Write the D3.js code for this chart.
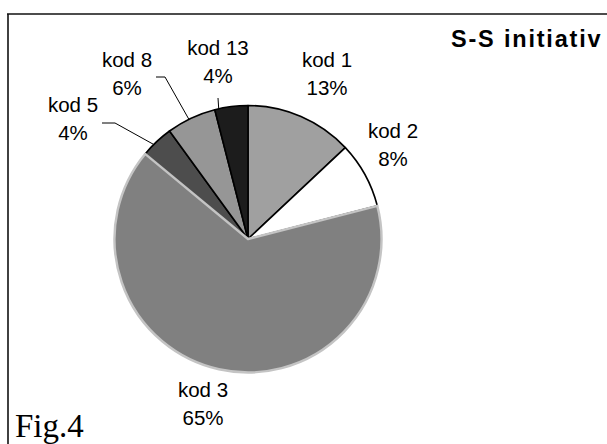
<!DOCTYPE html>
<html>
<head>
<meta charset="utf-8">
<script src="https://cdn.jsdelivr.net/npm/d3@7"></script>
<style>
  html, body { margin: 0; padding: 0; background: #fff; }
  svg { display: block; }
</style>
</head>
<body>
<svg id="chart" width="607" height="444"></svg>
<script>
// ---- data ----
const categories = ["kod 1", "kod 2", "kod 3", "kod 5", "kod 8", "kod 13"];
const values = [13, 8, 65, 4, 6, 4];
const percentLabels = ["13%", "8%", "65%", "4%", "6%", "4%"];
const title = "S-S initiativ";
const figLabel = "Fig.4";

// ---- layout / style (kept separate from data) ----
const fills = ["#a0a0a0", "#ffffff", "#808080", "#4d4d4d", "#969696", "#1c1c1c"];
const cx = 248, cy = 239, radius = 133.5;
// label anchor (center x, first baseline) relative to pie centre
const labelOffsets = [[79, -172], [145, -101], [-45, 158], [-175, -127], [-121, -172], [-30, -184]];
// leader lines: fraction within slice for edge point, plus fixed elbow points (relative)
const leaders = [
  null, null, null,
  { frac: 0.38, pts: [[-146, -116], [-133, -116]] },
  { frac: 0.45, pts: [[-92, -162], [-83, -162]] },
  { frac: 0.12, pts: [[-30, -141]] }
];

const svg = d3.select("#chart");

// frame
svg.append("line").attr("x1", 7).attr("y1", 14).attr("x2", 607).attr("y2", 14)
  .attr("stroke", "#111").attr("stroke-width", 1.6);
svg.append("line").attr("x1", 8).attr("y1", 14).attr("x2", 8).attr("y2", 444)
  .attr("stroke", "#111").attr("stroke-width", 1.6);

const pie = d3.pie().sort(null).value(d => d)(values);
const arc = d3.arc().innerRadius(0).outerRadius(radius);

const g = svg.append("g").attr("transform", `translate(${cx},${cy})`);

// draw all slices except kod 3 with black outline, then kod 3 on top with light outline
const order = pie.map((d, i) => i).filter(i => i !== 2).concat([2]);
order.forEach(i => {
  const d = pie[i];
  g.append("path")
    .attr("d", arc(d))
    .attr("fill", fills[i])
    .attr("stroke", i === 2 ? "#c4c4c4" : "#000")
    .attr("stroke-width", i === 2 ? 2.4 : 1.6)
    .attr("stroke-linejoin", "round");
});

// leader lines
pie.forEach((d, i) => {
  const L = leaders[i];
  if (!L) return;
  const a = d.startAngle + L.frac * (d.endAngle - d.startAngle);
  const edge = [Math.sin(a) * radius, -Math.cos(a) * radius];
  const pts = L.pts.concat([edge]);
  g.append("path")
    .attr("d", d3.line()(pts))
    .attr("fill", "none")
    .attr("stroke", "#000")
    .attr("stroke-width", 1);
});

// labels
pie.forEach((d, i) => {
  const [ox, oy] = labelOffsets[i];
  const t = g.append("text")
    .attr("text-anchor", "middle")
    .attr("font-family", "'Liberation Sans', Arial, sans-serif")
    .attr("font-size", 20.5)
    .attr("fill", "#000");
  t.append("tspan").attr("x", ox).attr("y", oy).text(categories[i]);
  t.append("tspan").attr("x", ox).attr("y", oy + 28).text(percentLabels[i]);
});

// title
svg.append("text")
  .attr("x", 451).attr("y", 47)
  .attr("font-family", "'Liberation Sans', Arial, sans-serif")
  .attr("font-weight", "bold")
  .attr("font-size", 23.5)
  .attr("letter-spacing", 1.8)
  .attr("fill", "#000")
  .text(title);

// figure label
svg.append("text")
  .attr("x", 15).attr("y", 437)
  .attr("font-family", "'Liberation Serif', 'Times New Roman', serif")
  .attr("font-size", 33)
  .attr("fill", "#000")
  .text(figLabel);
</script>
</body>
</html>
